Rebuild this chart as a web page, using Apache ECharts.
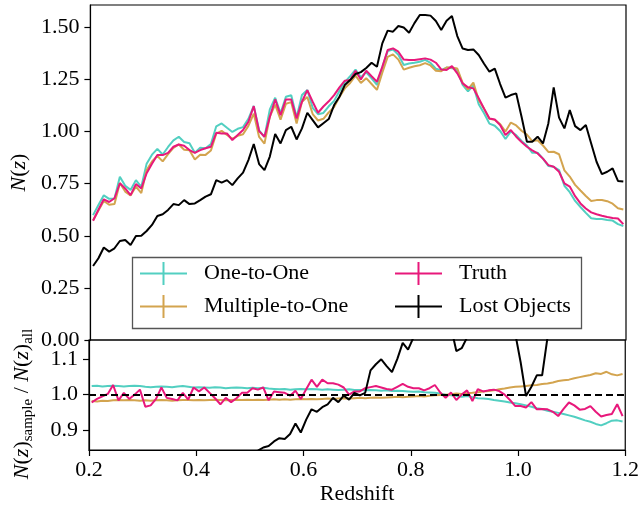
<!DOCTYPE html>
<html>
<head>
<meta charset="utf-8">
<script src="https://cdn.jsdelivr.net/npm/echarts@6/dist/echarts.min.js"></script>
<style>
html,body{margin:0;padding:0;background:#fff;}
#chart{width:642px;height:506px;}
</style>
</head>
<body>
<div id="chart"></div>
<script>
// Bin centres (redshift)
const redshift = [
  0.205,0.215,0.225,0.235,0.245,0.255,0.265,0.275,0.285,0.295,
  0.305,0.315,0.325,0.335,0.345,0.355,0.365,0.375,0.385,0.395,
  0.405,0.415,0.425,0.435,0.445,0.455,0.465,0.475,0.485,0.495,
  0.505,0.515,0.525,0.535,0.545,0.555,0.565,0.575,0.585,0.595,
  0.605,0.615,0.625,0.635,0.645,0.655,0.665,0.675,0.685,0.695,
  0.705,0.715,0.725,0.735,0.745,0.755,0.765,0.775,0.785,0.795,
  0.805,0.815,0.825,0.835,0.845,0.855,0.865,0.875,0.885,0.895,
  0.905,0.915,0.925,0.935,0.945,0.955,0.965,0.975,0.985,0.995,
  1.005,1.015,1.025,1.035,1.045,1.055,1.065,1.075,1.085,1.095,
  1.105,1.115,1.125,1.135,1.145,1.155,1.165,1.175,1.185,1.195];

// Top panel: N(z)
const oneToOne = [
  0.599,0.648,0.694,0.677,0.679,0.783,0.740,0.720,0.767,0.734,
  0.846,0.889,0.917,0.890,0.926,0.958,0.975,0.950,0.944,0.898,
  0.922,0.920,0.940,1.025,1.039,1.018,0.998,1.013,1.021,1.061,
  1.123,1.006,0.974,1.106,1.162,1.088,1.167,1.174,1.067,1.175,
  1.199,1.114,1.083,1.089,1.121,1.147,1.194,1.237,1.266,1.297,
  1.260,1.284,1.255,1.224,1.308,1.386,1.393,1.368,1.319,1.326,
  1.330,1.335,1.344,1.329,1.301,1.294,1.307,1.304,1.295,1.224,
  1.193,1.221,1.131,1.088,1.038,1.028,1.003,0.964,1.000,0.983,
  0.955,0.933,0.898,0.898,0.870,0.835,0.831,0.815,0.740,0.709,
  0.667,0.638,0.610,0.584,0.581,0.580,0.576,0.573,0.556,0.547];
const multipleToOne = [
  0.574,0.621,0.667,0.649,0.652,0.753,0.712,0.693,0.736,0.705,
  0.815,0.856,0.883,0.857,0.892,0.922,0.938,0.913,0.910,0.866,
  0.889,0.888,0.909,0.990,1.003,0.984,0.965,0.979,0.987,1.027,
  1.086,0.974,0.942,1.072,1.129,1.057,1.133,1.141,1.038,1.143,
  1.166,1.084,1.053,1.061,1.092,1.117,1.166,1.207,1.233,1.268,
  1.233,1.256,1.228,1.200,1.282,1.358,1.370,1.345,1.297,1.306,
  1.313,1.318,1.328,1.317,1.292,1.289,1.307,1.307,1.302,1.233,
  1.202,1.235,1.151,1.110,1.061,1.056,1.036,1.000,1.043,1.029,
  1.004,0.985,0.954,0.958,0.933,0.902,0.903,0.891,0.814,0.784,
  0.744,0.717,0.691,0.667,0.671,0.672,0.666,0.654,0.632,0.626];
const truth = [
  0.572,0.625,0.675,0.662,0.680,0.752,0.727,0.695,0.748,0.727,
  0.800,0.845,0.887,0.887,0.898,0.927,0.938,0.932,0.911,0.898,
  0.911,0.920,0.927,0.994,0.991,0.991,0.959,0.983,1.007,1.047,
  1.122,1.002,0.975,1.070,1.154,1.079,1.154,1.154,1.063,1.143,
  1.199,1.143,1.090,1.120,1.145,1.175,1.212,1.244,1.247,1.292,
  1.250,1.292,1.265,1.239,1.310,1.391,1.399,1.383,1.345,1.343,
  1.343,1.347,1.351,1.345,1.330,1.298,1.295,1.314,1.279,1.231,
  1.212,1.207,1.160,1.110,1.063,1.058,1.031,0.983,1.007,0.975,
  0.950,0.927,0.910,0.895,0.870,0.839,0.831,0.807,0.751,0.736,
  0.690,0.655,0.631,0.612,0.603,0.596,0.590,0.585,0.583,0.556];
const lostObjects = [
  0.355,0.392,0.444,0.424,0.440,0.475,0.480,0.456,0.499,0.500,
  0.523,0.552,0.595,0.603,0.624,0.652,0.647,0.671,0.652,0.655,
  0.671,0.688,0.699,0.767,0.755,0.767,0.743,0.775,0.803,0.863,
  0.940,0.844,0.815,0.880,0.988,0.943,1.007,1.023,0.962,1.015,
  1.090,1.055,1.020,1.040,1.060,1.127,1.167,1.223,1.247,1.276,
  1.285,1.305,1.330,1.311,1.423,1.484,1.479,1.506,1.499,1.474,
  1.520,1.559,1.559,1.556,1.530,1.487,1.532,1.554,1.458,1.398,
  1.391,1.394,1.367,1.325,1.287,1.302,1.228,1.163,1.175,1.183,
  1.071,0.951,0.951,0.975,0.943,1.039,1.212,1.067,1.015,1.103,
  1.026,1.007,1.031,0.943,0.855,0.796,0.807,0.823,0.763,0.760];

// Bottom panel: N(z)_sample / N(z)_all
const oneToOneRatio = [
  1.024,1.025,1.023,1.024,1.025,1.024,1.023,1.024,1.025,1.024,
  1.022,1.021,1.022,1.023,1.022,1.021,1.023,1.024,1.022,1.020,
  1.021,1.020,1.019,1.021,1.020,1.018,1.019,1.020,1.019,1.018,
  1.019,1.018,1.019,1.017,1.016,1.015,1.016,1.014,1.015,1.016,
  1.015,1.016,1.015,1.014,1.015,1.014,1.013,1.014,1.015,1.013,
  1.013,1.012,1.013,1.012,1.011,1.012,1.010,1.011,1.010,1.009,
  1.008,1.009,1.007,1.006,1.005,1.003,1.000,0.998,0.997,0.994,
  0.996,0.993,0.990,0.989,0.988,0.985,0.983,0.981,0.978,0.976,
  0.973,0.970,0.966,0.962,0.960,0.955,0.952,0.949,0.946,0.942,
  0.938,0.933,0.928,0.924,0.918,0.914,0.920,0.927,0.928,0.925];
const multipleToOneRatio = [
  0.982,0.981,0.983,0.982,0.984,0.985,0.984,0.985,0.984,0.983,
  0.984,0.983,0.984,0.985,0.984,0.983,0.984,0.985,0.985,0.984,
  0.985,0.984,0.985,0.986,0.985,0.984,0.985,0.986,0.985,0.986,
  0.985,0.986,0.985,0.986,0.987,0.986,0.987,0.986,0.987,0.988,
  0.987,0.988,0.987,0.988,0.989,0.988,0.989,0.990,0.989,0.990,
  0.991,0.990,0.991,0.992,0.991,0.992,0.993,0.994,0.993,0.994,
  0.995,0.996,0.995,0.997,0.998,0.999,1.000,1.001,1.003,1.002,
  1.004,1.005,1.007,1.009,1.010,1.012,1.015,1.017,1.020,1.022,
  1.023,1.024,1.026,1.027,1.030,1.031,1.034,1.038,1.040,1.042,
  1.046,1.049,1.052,1.055,1.060,1.058,1.064,1.057,1.054,1.058];
const truthRatio = [
  0.978,0.988,0.995,1.002,1.027,0.984,1.005,0.988,1.000,1.014,
  0.966,0.970,0.988,1.020,0.991,0.988,0.984,1.005,0.986,1.020,
  1.009,1.020,1.005,0.990,0.973,0.991,0.979,0.990,1.005,1.005,
  1.018,1.014,1.020,0.984,1.009,1.007,1.005,0.997,1.011,0.988,
  1.015,1.042,1.022,1.042,1.032,1.032,1.028,1.020,1.000,1.009,
  1.009,1.018,1.021,1.024,1.020,1.016,1.014,1.022,1.030,1.022,
  1.018,1.018,1.012,1.018,1.027,1.006,0.991,1.006,0.985,1.000,
  1.012,0.982,1.015,1.009,1.012,1.014,1.010,1.000,0.985,0.968,
  0.968,0.964,0.979,0.959,0.960,0.959,0.952,0.940,0.960,0.978,
  0.970,0.958,0.960,0.968,0.952,0.939,0.943,0.946,0.973,0.940];
const lostObjectsRatio = [
  0.62,0.63,0.66,0.64,0.64,0.64,0.66,0.66,0.67,0.68,
  0.69,0.69,0.69,0.69,0.70,0.71,0.70,0.72,0.71,0.72,
  0.74,0.76,0.76,0.77,0.76,0.77,0.76,0.78,0.80,0.83,
  0.84,0.843,0.852,0.856,0.869,0.878,0.876,0.890,0.919,0.894,
  0.930,0.959,0.952,0.965,0.973,0.991,0.979,0.997,0.986,1.005,
  0.998,1.005,1.068,1.085,1.099,1.080,1.063,1.100,1.145,1.126,
  1.16,1.18,1.18,1.19,1.18,1.17,1.19,1.19,1.122,1.130,
  1.16,1.18,1.19,1.20,1.21,1.24,1.20,1.18,1.16,1.17,
  1.090,0.996,1.022,1.054,1.054,1.16,1.38,1.20,1.18,1.30,
  1.22,1.20,1.26,1.16,1.18,1.25,1.27,1.30,1.29,1.29];

const topTicks = [0, 0.25, 0.5, 0.75, 1.0, 1.25, 1.5];
const ratioTicks = [0.9, 1.0, 1.1];
const xTicks = [0.2, 0.4, 0.6, 0.8, 1.0, 1.2];

const seriesNames = ['One-to-One', 'Multiple-to-One', 'Truth', 'Lost Objects'];
const colors = ['#52cfc1', '#d3a44f', '#e8187b', '#000000'];
const topData = [oneToOne, multipleToOne, truth, lostObjects];
const ratioData = [oneToOneRatio, multipleToOneRatio, truthRatio, lostObjectsRatio];

const FONT = 'Liberation Serif';
const plusIcon = 'path://M0,10.5H47V12.5H0Z M22.5,0H24.5V23H22.5Z';

const pairs = arr => redshift.map((z, i) => [z, arr[i]]);

const series = [];
seriesNames.forEach((name, k) => {
  series.push({
    name: name, type: 'line', xAxisIndex: 0, yAxisIndex: 0,
    data: pairs(topData[k]), showSymbol: false, symbol: 'none',
    color: colors[k], lineStyle: {color: colors[k], width: 2}, z: 2 + k
  });
});
seriesNames.forEach((name, k) => {
  const s = {
    name: name, type: 'line', xAxisIndex: 1, yAxisIndex: 1,
    data: pairs(ratioData[k]), showSymbol: false, symbol: 'none',
    color: colors[k], lineStyle: {color: colors[k], width: 2}, z: 2 + k, clip: true
  };
  if (k === 3) {
    s.markLine = {
      silent: true, symbol: 'none', label: {show: false}, animation: false,
      lineStyle: {color: '#000', width: 2, type: [7, 4]},
      data: [{yAxis: 1.0}]
    };
  }
  series.push(s);
});

const axisLabelBase = {fontFamily: FONT, fontSize: 22, color: '#000'};
const tickBase = {show: true, inside: false, length: 6, lineStyle: {color: '#000', width: 1.2}};

const option = {
  animation: false,
  backgroundColor: '#fff',
  grid: [
    {left: 89, top: 5, width: 537, height: 335, show: true, borderColor: '#000', borderWidth: 1.2, backgroundColor: 'transparent'},
    {left: 89, top: 340, width: 537, height: 111, show: true, borderColor: '#000', borderWidth: 1.2, backgroundColor: 'transparent'}
  ],
  xAxis: [
    {type: 'value', gridIndex: 0, min: 0.2, max: 1.2,
     axisLine: {show: false}, axisTick: {show: false}, axisLabel: {show: false}, splitLine: {show: false}},
    {type: 'value', gridIndex: 1, min: 0.2, max: 1.2,
     axisLine: {show: true, onZero: false, lineStyle: {color: '#000', width: 1.2}},
     axisTick: Object.assign({customValues: xTicks}, tickBase),
     axisLabel: Object.assign({customValues: xTicks, margin: 9, formatter: v => v.toFixed(1)}, axisLabelBase),
     splitLine: {show: false},
     name: 'Redshift', nameLocation: 'middle', nameGap: 33,
     nameTextStyle: {fontFamily: FONT, fontSize: 22, color: '#000'}}
  ],
  yAxis: [
    {type: 'value', gridIndex: 0, min: 0, max: 1.607,
     axisLine: {show: true, onZero: false, lineStyle: {color: '#000', width: 1.2}},
     axisTick: Object.assign({customValues: topTicks}, tickBase),
     axisLabel: Object.assign({customValues: topTicks, margin: 11, formatter: v => v.toFixed(2)}, axisLabelBase),
     splitLine: {show: false},
     name: '{i|N}{r|(}{i|z}{r|)}', nameLocation: 'middle', nameGap: 57, nameRotate: 90,
     nameTextStyle: {fontFamily: FONT, fontSize: 22, color: '#000',
       rich: {i: {fontFamily: FONT, fontSize: 22, fontStyle: 'italic', color: '#000'},
              r: {fontFamily: FONT, fontSize: 22, color: '#000'}}}},
    {type: 'value', gridIndex: 1, min: 0.845, max: 1.153,
     axisLine: {show: true, onZero: false, lineStyle: {color: '#000', width: 1.2}},
     axisTick: Object.assign({customValues: ratioTicks}, tickBase),
     axisLabel: Object.assign({customValues: ratioTicks, margin: 11, formatter: v => v.toFixed(1)}, axisLabelBase),
     splitLine: {show: false}}
  ],
  legend: [
    {left: 140, top: 262, orient: 'vertical', padding: 0, itemGap: 10,
     itemWidth: 47, itemHeight: 23, z: 20, selectedMode: false,
     data: [{name: 'One-to-One', icon: plusIcon}, {name: 'Multiple-to-One', icon: plusIcon}],
     textStyle: {fontFamily: FONT, fontSize: 22, color: '#000', lineHeight: 23, padding: [0, 0, 0, 12]}},
    {left: 395, top: 262, orient: 'vertical', padding: 0, itemGap: 10,
     itemWidth: 47, itemHeight: 23, z: 20, selectedMode: false,
     data: [{name: 'Truth', icon: plusIcon}, {name: 'Lost Objects', icon: plusIcon}],
     textStyle: {fontFamily: FONT, fontSize: 22, color: '#000', lineHeight: 23, padding: [0, 0, 0, 12]}}
  ],
  graphic: [
    {type: 'rect', z: 15, silent: true,
     shape: {x: 132.5, y: 257.5, width: 449, height: 71},
     style: {fill: '#fff', stroke: '#555', lineWidth: 1.3}},
    {type: 'text', z: 20, silent: true, x: 22, y: 404, rotation: Math.PI / 2,
     style: {
       text: '{i|N}{r|(}{i|z}{r|)}{s|sample}{r| / }{i|N}{r|(}{i|z}{r|)}{s|all}',
       align: 'center', verticalAlign: 'middle',
       rich: {
         i: {fontFamily: FONT, fontSize: 22, fontStyle: 'italic', fill: '#000', lineHeight: 28, verticalAlign: 'middle'},
         r: {fontFamily: FONT, fontSize: 22, fill: '#000', lineHeight: 28, verticalAlign: 'middle'},
         s: {fontFamily: FONT, fontSize: 15, fill: '#000', lineHeight: 15, verticalAlign: 'bottom'}
       }
     }}
  ],
  series: series
};

const chart = echarts.init(document.getElementById('chart'), null, {renderer: 'canvas'});
chart.setOption(option);
</script>
</body>
</html>
